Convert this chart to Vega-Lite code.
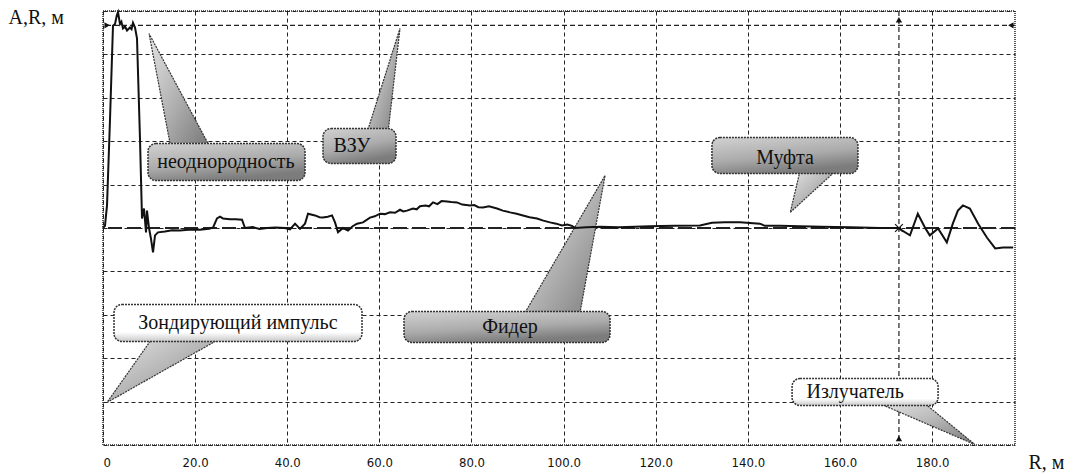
{
  "$schema": "https://vega.github.io/schema/vega-lite/v6.json",
  "width": 912,
  "height": 434,
  "autosize": {"type": "none"},
  "padding": {"left": 103, "top": 11, "right": 58, "bottom": 29},
  "background": "white",
  "view": {"stroke": "#222", "strokeWidth": 1.5, "strokeDash": [1, 1]},
  "config": {
    "axis": {"domain": false, "ticks": false, "grid": true, "gridColor": "#222", "gridDash": [4, 3], "gridWidth": 1, "gridOpacity": 1}
  },
  "datasets": {
    "signal": [
      {"r": 0, "v": 0}, {"r": 0.43, "v": 0.05}, {"r": 0.87, "v": 0.52}, {"r": 1.52, "v": 2.5}, {"r": 2.17, "v": 4.66},
      {"r": 2.61, "v": 4.7}, {"r": 3.0, "v": 4.9}, {"r": 3.26, "v": 4.97}, {"r": 3.69, "v": 4.7}, {"r": 4.0, "v": 4.75},
      {"r": 4.34, "v": 4.6}, {"r": 4.8, "v": 4.64}, {"r": 5.21, "v": 4.55}, {"r": 5.86, "v": 4.62}, {"r": 6.2, "v": 4.58},
      {"r": 6.51, "v": 4.73}, {"r": 6.95, "v": 4.62}, {"r": 7.38, "v": 4.37}, {"r": 8.03, "v": 2.06}, {"r": 8.47, "v": 0.22},
      {"r": 8.9, "v": 0.45}, {"r": 9.34, "v": -0.1}, {"r": 9.55, "v": 0.4}, {"r": 9.99, "v": 0.0}, {"r": 10.42, "v": -0.25},
      {"r": 10.86, "v": -0.56}, {"r": 11.29, "v": -0.17}, {"r": 11.94, "v": -0.1}, {"r": 13.46, "v": -0.08}, {"r": 15.0, "v": -0.05},
      {"r": 16.72, "v": -0.06}, {"r": 18.5, "v": -0.04}, {"r": 21.06, "v": -0.04}, {"r": 23.0, "v": -0.02}, {"r": 23.88, "v": 0.01},
      {"r": 24.75, "v": 0.22}, {"r": 25.4, "v": 0.26}, {"r": 26.05, "v": 0.22}, {"r": 27.57, "v": 0.2}, {"r": 28.8, "v": 0.2},
      {"r": 30.18, "v": 0.19}, {"r": 30.83, "v": 0.0}, {"r": 32.5, "v": 0.02}, {"r": 34.0, "v": -0.02}, {"r": 35.61, "v": 0.0},
      {"r": 37.5, "v": 0.01}, {"r": 39.51, "v": 0.0}, {"r": 40.6, "v": -0.03}, {"r": 41.69, "v": 0.1}, {"r": 42.77, "v": -0.02},
      {"r": 43.86, "v": 0.1}, {"r": 44.51, "v": 0.33}, {"r": 46.03, "v": 0.29}, {"r": 47.0, "v": 0.25}, {"r": 47.76, "v": 0.24},
      {"r": 48.8, "v": 0.26}, {"r": 49.72, "v": 0.29}, {"r": 50.37, "v": 0.13}, {"r": 51.02, "v": -0.1}, {"r": 52.11, "v": 0.0},
      {"r": 53.19, "v": -0.06}, {"r": 54.2, "v": 0.04}, {"r": 55.15, "v": 0.1}, {"r": 56.45, "v": 0.13}, {"r": 57.97, "v": 0.24},
      {"r": 59.0, "v": 0.27}, {"r": 60.14, "v": 0.33}, {"r": 61.2, "v": 0.32}, {"r": 62.31, "v": 0.36}, {"r": 63.4, "v": 0.35},
      {"r": 64.48, "v": 0.42}, {"r": 65.2, "v": 0.38}, {"r": 66.0, "v": 0.4}, {"r": 67.3, "v": 0.45}, {"r": 68.1, "v": 0.43},
      {"r": 68.82, "v": 0.5}, {"r": 70.0, "v": 0.52}, {"r": 70.8, "v": 0.5}, {"r": 71.65, "v": 0.59}, {"r": 72.6, "v": 0.55},
      {"r": 73.5, "v": 0.62}, {"r": 74.69, "v": 0.61}, {"r": 75.6, "v": 0.6}, {"r": 76.86, "v": 0.59}, {"r": 78.0, "v": 0.54},
      {"r": 79.68, "v": 0.52}, {"r": 80.6, "v": 0.53}, {"r": 81.5, "v": 0.48}, {"r": 82.5, "v": 0.47}, {"r": 83.8, "v": 0.5},
      {"r": 85.54, "v": 0.45}, {"r": 86.8, "v": 0.4}, {"r": 88.36, "v": 0.36}, {"r": 89.8, "v": 0.33}, {"r": 91.18, "v": 0.29},
      {"r": 92.6, "v": 0.25}, {"r": 94.22, "v": 0.22}, {"r": 95.6, "v": 0.17}, {"r": 97.05, "v": 0.13}, {"r": 98.4, "v": 0.1},
      {"r": 99.65, "v": 0.06}, {"r": 100.8, "v": 0.08}, {"r": 101.82, "v": 0.05}, {"r": 102.47, "v": 0.0}, {"r": 105.0, "v": 0.02},
      {"r": 107.9, "v": 0.03}, {"r": 112.0, "v": 0.02}, {"r": 118.8, "v": 0.04}, {"r": 124.0, "v": 0.05}, {"r": 129.6, "v": 0.06},
      {"r": 132.2, "v": 0.12}, {"r": 135.0, "v": 0.13}, {"r": 138.3, "v": 0.13}, {"r": 142.6, "v": 0.1}, {"r": 143.7, "v": 0.05},
      {"r": 147.0, "v": 0.05}, {"r": 151.3, "v": 0.04}, {"r": 156.0, "v": 0.03}, {"r": 162.2, "v": 0.02}, {"r": 168.7, "v": 0.0},
      {"r": 172.6, "v": 0.0}, {"r": 175.2, "v": -0.17}, {"r": 176.9, "v": 0.33}, {"r": 178.5, "v": 0.0}, {"r": 179.5, "v": -0.17},
      {"r": 181.3, "v": -0.01}, {"r": 183.2, "v": -0.33}, {"r": 184.5, "v": 0.1}, {"r": 185.6, "v": 0.4}, {"r": 186.7, "v": 0.52},
      {"r": 188.2, "v": 0.45}, {"r": 190.0, "v": 0.1}, {"r": 191.9, "v": -0.22}, {"r": 193.7, "v": -0.47}, {"r": 195.4, "v": -0.45},
      {"r": 197.6, "v": -0.45}
    ],
    "tails": [
      {"id": 1, "o": 1, "r": 14.55, "v": 1.95}, {"id": 1, "o": 2, "r": 9.99, "v": 4.48}, {"id": 1, "o": 3, "r": 22.8, "v": 1.95},
      {"id": 2, "o": 1, "r": 57.32, "v": 2.2}, {"id": 2, "o": 2, "r": 64.48, "v": 4.6}, {"id": 2, "o": 3, "r": 61.88, "v": 2.2},
      {"id": 3, "o": 1, "r": 151.3, "v": 1.3}, {"id": 3, "o": 2, "r": 149.2, "v": 0.36}, {"id": 3, "o": 3, "r": 158.9, "v": 1.3},
      {"id": 4, "o": 1, "r": 10.64, "v": -2.55}, {"id": 4, "o": 2, "r": 0.87, "v": -4.02}, {"id": 4, "o": 3, "r": 25.4, "v": -2.55},
      {"id": 5, "o": 1, "r": 91.62, "v": -1.95}, {"id": 5, "o": 2, "r": 109.0, "v": 1.21}, {"id": 5, "o": 3, "r": 103.56, "v": -1.95},
      {"id": 6, "o": 1, "r": 168.7, "v": -4.05}, {"id": 6, "o": 2, "r": 189.3, "v": -4.99}, {"id": 6, "o": 3, "r": 178.5, "v": -4.05}
    ],
    "boxes": [
      {"label": "неоднородность", "kind": "dark", "r1": 9.77, "r2": 43.86, "v1": 1.094, "v2": 1.947, "tr": 26.7, "tv": 1.51},
      {"label": "ВЗУ", "kind": "dark", "r1": 47.76, "r2": 63.61, "v1": 1.486, "v2": 2.29, "tr": 54.06, "tv": 1.9},
      {"label": "Муфта", "kind": "dark", "r1": 132.2, "r2": 163.9, "v1": 1.256, "v2": 2.085, "tr": 148.07, "tv": 1.62},
      {"label": "Зондирующий импульс", "kind": "light", "r1": 2.39, "r2": 56.23, "v1": -2.615, "v2": -1.763, "tr": 29.3, "tv": -2.2},
      {"label": "Фидер", "kind": "dark", "r1": 65.35, "r2": 110.08, "v1": -2.638, "v2": -1.924, "tr": 88.36, "tv": -2.29},
      {"label": "Излучатель", "kind": "light", "r1": 149.6, "r2": 181.3, "v1": -4.09, "v2": -3.468, "tr": 163.3, "tv": -3.79}
    ],
    "markers": [
      {"r": 0.9, "v": 4.67, "shape": "triangle-right"},
      {"r": 197.1, "v": 4.67, "shape": "triangle-left"},
      {"r": 172.8, "v": 4.8, "shape": "triangle-up"},
      {"r": 172.8, "v": -4.85, "shape": "triangle-up"}
    ]
  },
  "layer": [
    {
      "data": {"values": [{"a": 1}]},
      "mark": {"type": "point", "opacity": 0},
      "encoding": {
        "x": {"datum": 0, "type": "quantitative",
          "scale": {"domain": [0, 198], "nice": false, "zero": false},
          "axis": {"grid": true, "values": [0, 20, 40, 60, 80, 100, 120, 140, 160, 180],
            "labelExpr": "datum.value == 0 ? '0' : format(datum.value, '.1f')",
            "labelFont": "Liberation Sans Narrow, DejaVu Sans Condensed, sans-serif", "labelFontSize": 13, "labelColor": "#111",
            "labelPadding": 11, "labelBaseline": "top",
            "title": "R, м", "titleFont": "Liberation Serif", "titleFontSize": 20, "titleFontWeight": "normal", "titleColor": "#111",
            "titleX": 925, "titleY": 23, "titleAlign": "left", "titleAnchor": "start", "titleBaseline": "alphabetic"}},
        "y": {"datum": 0, "type": "quantitative",
          "scale": {"domain": [-5, 5], "nice": false, "zero": false},
          "axis": {"grid": true, "values": [-5, -4, -3, -2, -1, 0, 1, 2, 3, 4, 5], "labels": false,
            "title": "A,R, м", "titleFont": "Liberation Serif", "titleFontSize": 20, "titleFontWeight": "normal", "titleColor": "#111",
            "titleAngle": 0, "titleX": -95, "titleY": 12, "titleAlign": "left", "titleAnchor": "start", "titleBaseline": "alphabetic"}}
      }
    },
    {
      "data": {"values": [{"v": 4.67}]},
      "mark": {"type": "rule", "color": "#222", "strokeDash": [5, 3], "strokeWidth": 1.2},
      "encoding": {"y": {"field": "v", "type": "quantitative"}}
    },
    {
      "data": {"values": [{"r": 172.8}]},
      "mark": {"type": "rule", "color": "#222", "strokeDash": [5, 3], "strokeWidth": 1.2},
      "encoding": {"x": {"field": "r", "type": "quantitative"}}
    },
    {
      "data": {"values": [{"v": 0}]},
      "mark": {"type": "rule", "color": "#222", "strokeDash": [14, 5], "strokeWidth": 2},
      "encoding": {"y": {"field": "v", "type": "quantitative"}}
    },
    {
      "data": {"name": "tails"},
      "mark": {"type": "line", "stroke": "#333", "strokeWidth": 1.2, "strokeDash": [2, 1],
        "fill": {"gradient": "linear", "x1": 0, "y1": 0, "x2": 1, "y2": 1,
          "stops": [{"offset": 0, "color": "#e4e4e4"}, {"offset": 0.5, "color": "#b4b4b4"}, {"offset": 1, "color": "#7a7a7a"}]}},
      "encoding": {
        "x": {"field": "r", "type": "quantitative"},
        "y": {"field": "v", "type": "quantitative"},
        "detail": {"field": "id"},
        "order": {"field": "o", "type": "quantitative"}
      }
    },
    {
      "data": {"name": "signal"},
      "mark": {"type": "line", "color": "#111", "strokeWidth": 2},
      "encoding": {
        "x": {"field": "r", "type": "quantitative"},
        "y": {"field": "v", "type": "quantitative"}
      }
    },
    {
      "data": {"name": "boxes"},
      "transform": [{"filter": "datum.kind == 'dark'"}],
      "mark": {"type": "rect", "cornerRadius": 8, "stroke": "#333", "strokeWidth": 1.5, "strokeDash": [2, 1],
        "fill": {"gradient": "linear", "x1": 0, "y1": 0, "x2": 0.4, "y2": 1,
          "stops": [{"offset": 0, "color": "#d2d2d2"}, {"offset": 0.6, "color": "#ababab"}, {"offset": 1, "color": "#7c7c7c"}]}},
      "encoding": {
        "x": {"field": "r1", "type": "quantitative"}, "x2": {"field": "r2"},
        "y": {"field": "v1", "type": "quantitative"}, "y2": {"field": "v2"}
      }
    },
    {
      "data": {"name": "boxes"},
      "transform": [{"filter": "datum.kind == 'light'"}],
      "mark": {"type": "rect", "cornerRadius": 8, "stroke": "#333", "strokeWidth": 1.5, "strokeDash": [2, 1],
        "fill": {"gradient": "linear", "x1": 0, "y1": 0, "x2": 0, "y2": 1,
          "stops": [{"offset": 0, "color": "#ffffff"}, {"offset": 0.75, "color": "#ffffff"}, {"offset": 1, "color": "#c8c8c8"}]}},
      "encoding": {
        "x": {"field": "r1", "type": "quantitative"}, "x2": {"field": "r2"},
        "y": {"field": "v1", "type": "quantitative"}, "y2": {"field": "v2"}
      }
    },
    {
      "data": {"name": "boxes"},
      "mark": {"type": "text", "font": "Liberation Serif", "fontSize": 20, "color": "#111", "align": "center", "baseline": "middle"},
      "encoding": {
        "x": {"field": "tr", "type": "quantitative"},
        "y": {"field": "tv", "type": "quantitative"},
        "text": {"field": "label"}
      }
    },
    {
      "data": {"name": "markers"},
      "mark": {"type": "point", "filled": true, "color": "#111", "size": 40, "opacity": 1},
      "encoding": {
        "x": {"field": "r", "type": "quantitative"},
        "y": {"field": "v", "type": "quantitative"},
        "shape": {"field": "shape", "type": "nominal", "scale": null}
      }
    },
    {
      "data": {"values": [{"r": 172.8, "v": 0}]},
      "mark": {"type": "point", "shape": "M-1,-1L1,1M1,-1L-1,1", "filled": false, "stroke": "#111", "strokeWidth": 1.2, "size": 60, "opacity": 1},
      "encoding": {
        "x": {"field": "r", "type": "quantitative"},
        "y": {"field": "v", "type": "quantitative"}
      }
    }
  ]
}
